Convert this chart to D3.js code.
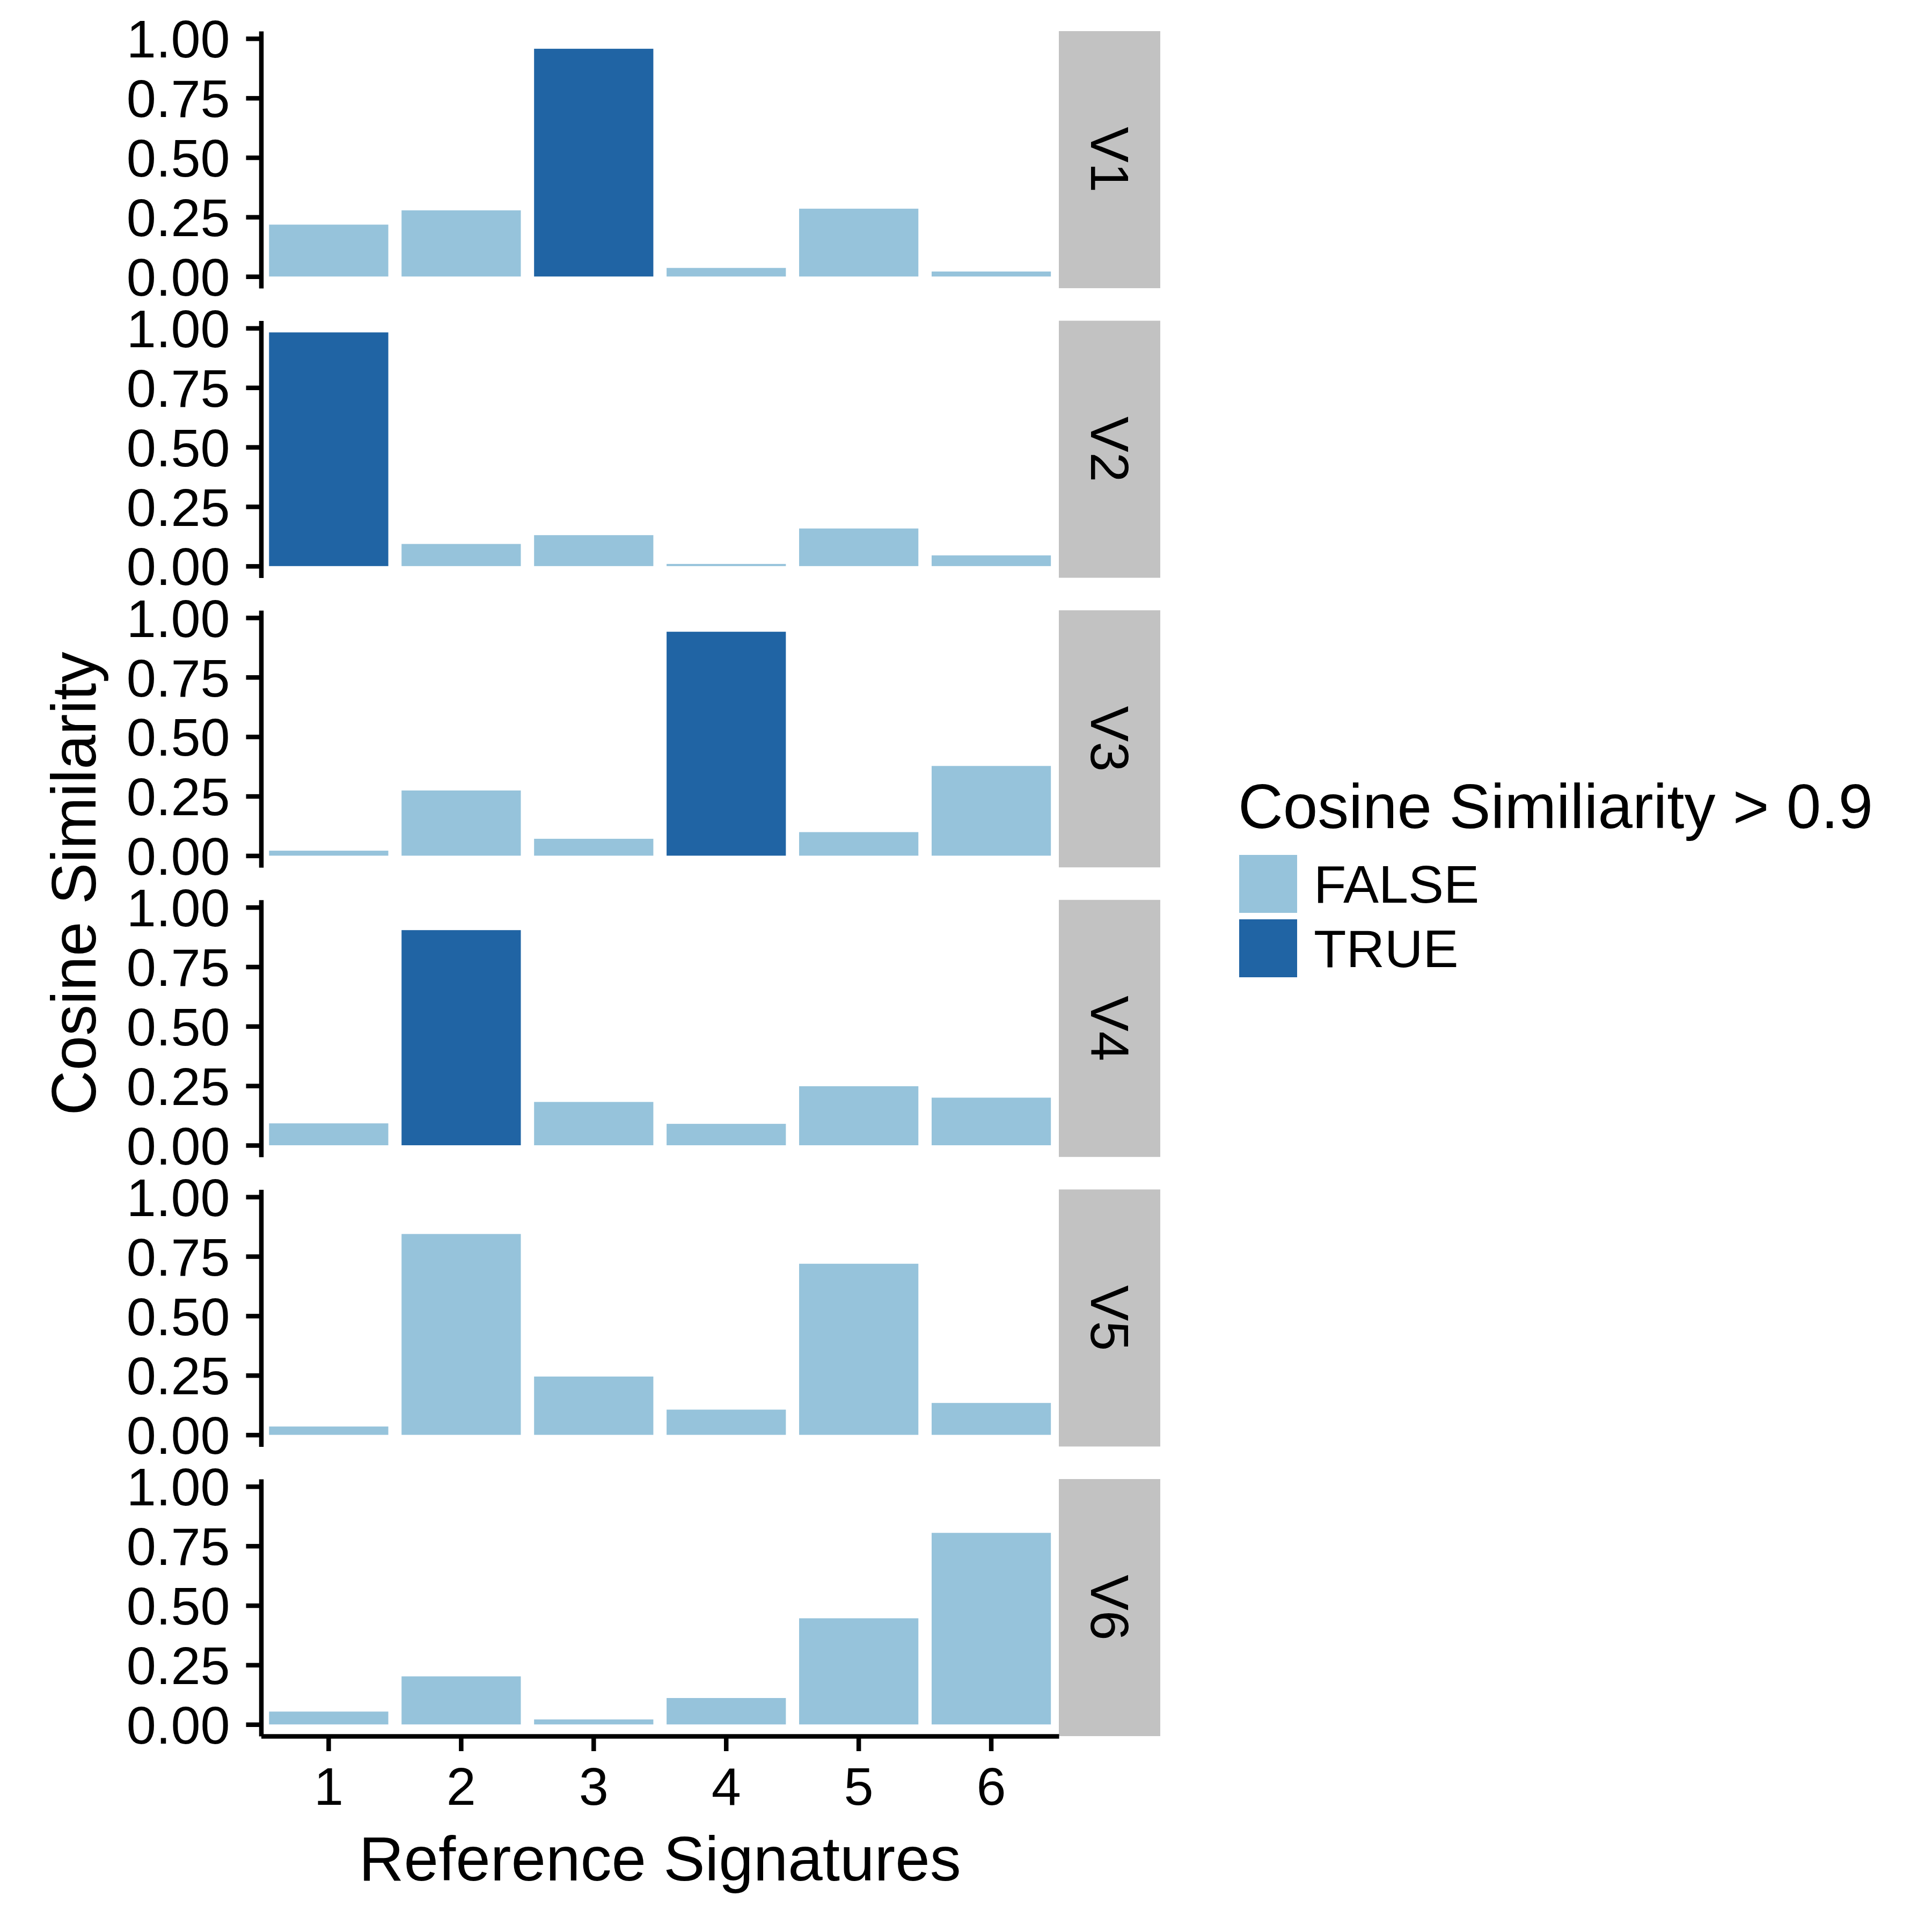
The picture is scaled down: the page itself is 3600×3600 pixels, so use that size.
<!DOCTYPE html>
<html>
<head>
<meta charset="utf-8">
<script src="https://cdn.jsdelivr.net/npm/d3@7"></script>
<style>
  body { margin: 0; background: #fff; }
  svg text { font-family: "Liberation Sans", Arial, Helvetica, sans-serif; fill: #000; }
</style>
</head>
<body>
<div id="grafico"></div>
<script>
//Datos
var signatures = ["1", "2", "3", "4", "5", "6"];
var facets = ["V1", "V2", "V3", "V4", "V5", "V6"];
var v1 = [0.218, 0.278, 0.957, 0.036, 0.285, 0.021];
var v2 = [0.982, 0.093, 0.130, 0.009, 0.158, 0.045];
var v3 = [0.021, 0.274, 0.071, 0.941, 0.099, 0.377];
var v4 = [0.092, 0.904, 0.182, 0.090, 0.248, 0.200];
var v5 = [0.035, 0.844, 0.245, 0.106, 0.719, 0.134];
var v6 = [0.054, 0.202, 0.021, 0.111, 0.446, 0.805];
var yTicks = [0, 0.25, 0.5, 0.75, 1];
var legendKeys = ["FALSE", "TRUE"];
var threshold = 0.9;

var series = [v1, v2, v3, v4, v5, v6];

//Funciones
var facet_bars = function(id, width_f, height_f) {

    var svg = d3.select(id).append("svg")
            .attr("width", width_f)
            .attr("height", height_f),
        margin = {left: 486.5, top: 58},
        panelW = 1486.5,
        panelH = 479,
        panelStep = 539.6,
        stripW = 189,
        tick = 28,
        pad = 30,
        fs = 99,
        fsTitle = 116;

    var z = d3.scaleOrdinal()
        .domain(legendKeys)
        .range(["#96C3DB", "#2064A4"]);

    var x = d3.scaleBand()
        .domain(signatures)
        .range([0, panelW])
        .paddingInner(0.1)
        .paddingOuter(0.06);

    var maxV = d3.max(series, function(s) { return d3.max(s); });
    var y = d3.scaleLinear()
        .domain([-0.05 * maxV, 1.05 * maxV])
        .range([panelH, 0]);

    var g = svg.append("g")
        .attr("transform", "translate(" + margin.left + "," + margin.top + ")");

    var panel = g.selectAll("g.panel")
        .data(facets)
        .enter().append("g")
        .attr("class", "panel")
        .attr("transform", function(d, i) {
            return "translate(0," + i * panelStep + ")";
        });

    panel.selectAll("rect.bar")
        .data(function(d, i) {
            return series[i].map(function(v, j) {
                return {key: signatures[j], value: v};
            });
        })
        .enter().append("rect")
        .attr("class", "bar")
        .attr("x", function(d) { return x(d.key); })
        .attr("y", function(d) { return y(d.value); })
        .attr("width", x.bandwidth())
        .attr("height", function(d) { return y(0) - y(d.value); })
        .attr("fill", function(d) { return z(d.value > threshold ? "TRUE" : "FALSE"); });

    // strip a la derecha
    panel.append("rect")
        .attr("x", panelW)
        .attr("y", 0)
        .attr("width", stripW)
        .attr("height", panelH)
        .attr("fill", "#C2C2C2");

    panel.append("text")
        .attr("transform", "translate(" + (panelW + stripW / 2) + "," + (panelH / 2) + ") rotate(90)")
        .attr("text-anchor", "middle")
        .attr("dy", "0.35em")
        .attr("font-size", 100)
        .text(function(d) { return d; });

    // eje y en cada panel
    panel.append("g")
        .attr("class", "axis")
        .each(function() {
            d3.select(this).call(d3.axisLeft(y)
                .tickValues(yTicks)
                .tickFormat(d3.format(".2f"))
                .tickSizeInner(tick)
                .tickSizeOuter(0)
                .tickPadding(pad));
        });

    // eje x solo abajo
    g.append("g")
        .attr("class", "axis")
        .attr("transform", "translate(0," + (5 * panelStep + panelH) + ")")
        .call(d3.axisBottom(x)
            .tickSizeInner(tick)
            .tickSizeOuter(0)
            .tickPadding(pad));

    g.selectAll(".axis path, .axis line")
        .attr("stroke", "#000")
        .attr("stroke-width", 8.5);
    g.selectAll(".axis")
        .attr("font-family", null)
        .attr("font-size", null);
    g.selectAll(".axis text")
        .attr("font-size", fs)
        .attr("fill", "#000");
    g.selectAll(".panel .axis text")
        .attr("dy", "0.355em");

    // titulos
    svg.append("text")
        .attr("x", margin.left + panelW / 2)
        .attr("y", 3504)
        .attr("text-anchor", "middle")
        .attr("font-size", fsTitle)
        .text("Reference Signatures");

    svg.append("text")
        .attr("transform", "translate(178," + (margin.top + (5 * panelStep + panelH) / 2) + ") rotate(-90)")
        .attr("text-anchor", "middle")
        .attr("font-size", fsTitle)
        .text("Cosine Similarity");

    // leyenda
    var legend = svg.append("g")
        .attr("transform", "translate(2309,1543)");

    legend.append("text")
        .attr("x", -2)
        .attr("y", 0)
        .attr("font-size", fsTitle)
        .text("Cosine Similiarity > 0.9");

    var item = legend.selectAll("g.item")
        .data(legendKeys)
        .enter().append("g")
        .attr("class", "item")
        .attr("transform", function(d, i) {
            return "translate(0," + (50 + i * 120) + ")";
        });

    item.append("rect")
        .attr("width", 108)
        .attr("height", 108)
        .attr("fill", z);

    item.append("text")
        .attr("x", 139)
        .attr("y", 54)
        .attr("dy", "0.355em")
        .attr("font-size", fs)
        .text(function(d) { return d; });
};

facet_bars("#grafico", 3600, 3600);
</script>
</body>
</html>
